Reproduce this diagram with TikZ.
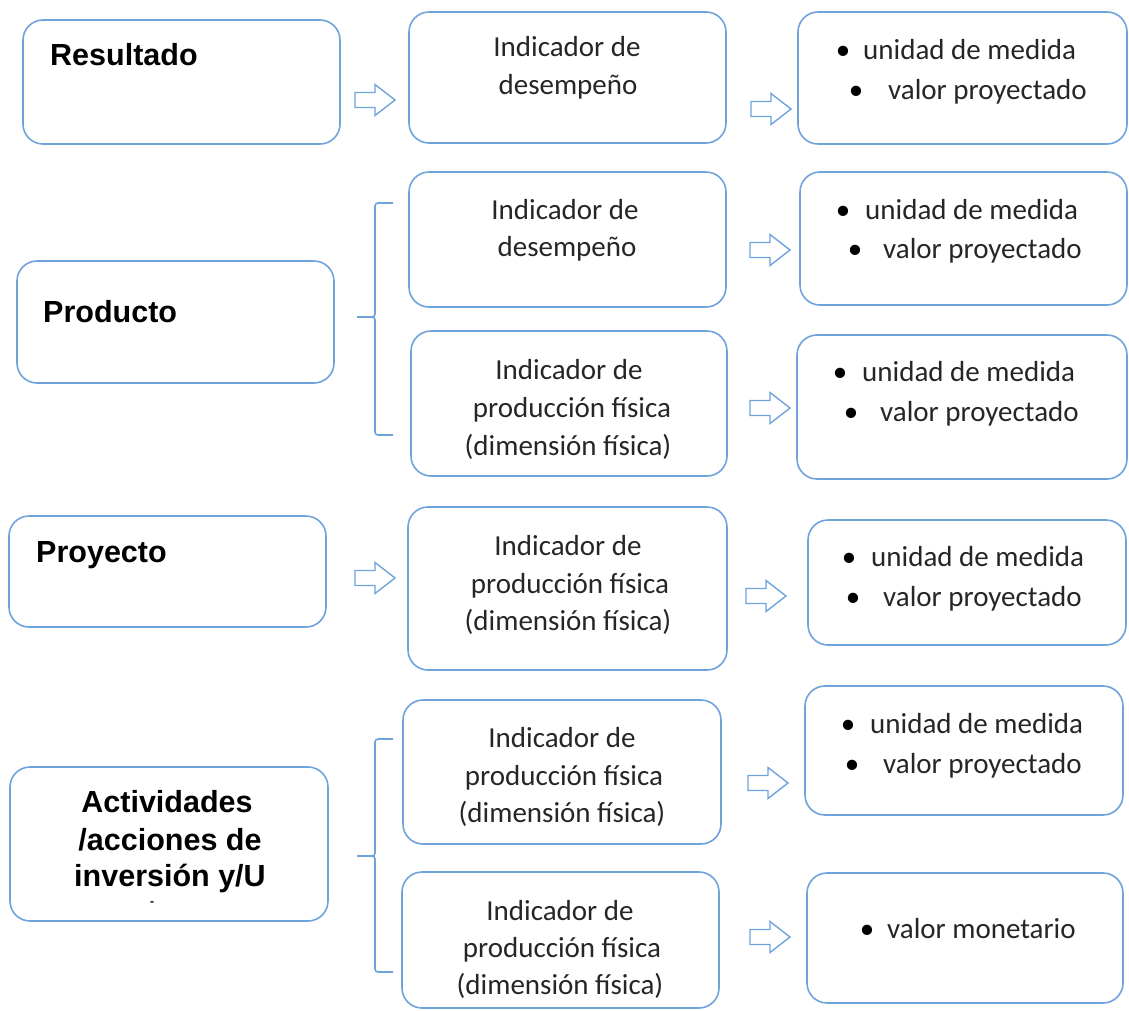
\documentclass[tikz,border=0pt]{standalone}
\usepackage{fontspec}
\setmainfont{Carlito}
\newfontfamily\arialfont{Liberation Sans}
\definecolor{bline}{RGB}{112,163,220}
\definecolor{tgrey}{RGB}{38,38,38}
\tikzset{
  box/.style={draw=bline, line width=1.6pt, rounded corners=20pt, inner sep=0pt, outer sep=0pt, fill=white},
  mtxt/.style={anchor=base, inner sep=0pt, text=tgrey, font=\fontsize{29}{36}\selectfont},
  btxt/.style={anchor=base west, inner sep=0pt, text=tgrey, font=\fontsize{29}{36}\selectfont},
  bul/.style={anchor=base, inner sep=0pt, text=black, font=\fontsize{29}{36}\selectfont},
  ltxt/.style={anchor=base west, inner sep=0pt, text=black, font=\arialfont\bfseries\fontsize{30.5}{37}\selectfont},
  ctxt/.style={anchor=base, inner sep=0pt, text=black, font=\arialfont\bfseries\fontsize{30.5}{37}\selectfont},
  bracestyle/.style={draw=bline, line width=1.6pt, rounded corners=3pt},
  barrow/.pic={\draw[draw=bline, line width=1.4pt, fill=white, line join=miter]
     (0,-7.5) -- (20,-7.5) -- (20,-15.5) -- (40,0) -- (20,15.5) -- (20,7.5) -- (0,7.5) -- cycle;}
}
\newcommand\bx[5]{\node[box, minimum width={(#4-#2)*1pt}, minimum height={(#5-#3)*1pt}] (#1) at ({(#2+#4)/2},{(#3+#5)/2}) {};}
\begin{document}
\begin{tikzpicture}[x=1pt,y=-1pt]
\useasboundingbox (0,0) rectangle (1129,1010);
% ---------- left column ----------
\bx{res}{23}{20}{340}{144}
\node[ltxt] (rest) at (50,65) {Resultado};
\bx{pro}{17}{261}{334}{383}
\node[ltxt] (prot) at (43,322) {Producto};
\bx{pry}{9}{516}{326}{627}
\node[ltxt] (pryt) at (36,562) {Proyecto};
\bx{act}{10}{767}{328}{921}
\node[ctxt] (acta) at (167,812) {Actividades};
\node[ctxt] (actb) at (170,850) {/acciones de};
\node[ctxt] (actc) at (170,886) {inversión y/U};
\node[ctxt, font=\arialfont\bfseries\fontsize{12}{14}\selectfont] (actd) at (152,905) {-};
% ---------- middle column ----------
\bx{m1}{409}{12}{726}{143}
\node[mtxt] (m1a) at (567,56) {Indicador de};
\node[mtxt] (m1b) at (568,94) {desempeño};
\bx{m2}{409}{172}{726}{307}
\node[mtxt] (m2a) at (565,219) {Indicador de};
\node[mtxt] (m2b) at (567,256) {desempeño};
\bx{m3}{411}{331}{727}{476}
\node[mtxt] (m3a) at (569,379) {Indicador de};
\node[mtxt] (m3b) at (572,417) {producción física};
\node[mtxt] (m3c) at (568,455) {(dimensión física)};
\bx{m4}{408}{507}{727}{670}
\node[mtxt] (m4a) at (568,555) {Indicador de};
\node[mtxt] (m4b) at (570,593) {producción física};
\node[mtxt] (m4c) at (568,630) {(dimensión física)};
\bx{m5}{403}{700}{721}{844}
\node[mtxt] (m5a) at (562,747) {Indicador de};
\node[mtxt] (m5b) at (564,785) {producción física};
\node[mtxt] (m5c) at (562,822) {(dimensión física)};
\bx{m6}{402}{872}{719}{1008}
\node[mtxt] (m6a) at (560,920) {Indicador de};
\node[mtxt] (m6b) at (562,957) {producción física};
\node[mtxt] (m6c) at (560,994) {(dimensión física)};
% ---------- right column ----------
\bx{r1}{798}{12}{1127}{144}
\node[bul] (r1p) at (843,59) {•};
\node[btxt] (r1a) at (863,59) {unidad de medida};
\node[bul] (r1q) at (856,99) {•};
\node[btxt] (r1b) at (888,99) {valor proyectado};
\bx{r2}{800}{172}{1127}{305}
\node[bul] (r2p) at (843,219) {•};
\node[btxt] (r2a) at (865,219) {unidad de medida};
\node[bul] (r2q) at (855,258) {•};
\node[btxt] (r2b) at (883,258) {valor proyectado};
\bx{r3}{797}{335}{1127}{479}
\node[bul] (r3p) at (840,381) {•};
\node[btxt] (r3a) at (862,381) {unidad de medida};
\node[bul] (r3q) at (851,421) {•};
\node[btxt] (r3b) at (880,421) {valor proyectado};
\bx{r4}{808}{520}{1126}{645}
\node[bul] (r4p) at (849,566) {•};
\node[btxt] (r4a) at (871,566) {unidad de medida};
\node[bul] (r4q) at (853,606) {•};
\node[btxt] (r4b) at (883,606) {valor proyectado};
\bx{r5}{805}{686}{1123}{815}
\node[bul] (r5p) at (848,733) {•};
\node[btxt] (r5a) at (870,733) {unidad de medida};
\node[bul] (r5q) at (852,773) {•};
\node[btxt] (r5b) at (883,773) {valor proyectado};
\bx{r6}{807}{873}{1123}{1003}
\node[bul] (r6p) at (867,938) {•};
\node[btxt] (r6a) at (887,938) {valor monetario};
% ---------- arrows ----------
\pic at (355,100) {barrow};
\pic at (751,109) {barrow};
\pic at (750,250) {barrow};
\pic at (750,408) {barrow};
\pic at (355,578) {barrow};
\pic at (746,596) {barrow};
\pic at (748,783) {barrow};
\pic at (750,937) {barrow};
% ---------- braces ----------
\draw[bracestyle] (393,203) -- (375,203) -- (375,317) -- (357,317);
\draw[bracestyle] (357,317) -- (375,317) -- (375,435) -- (393,435);
\draw[bracestyle] (393,739) -- (375,739) -- (375,856) -- (357,856);
\draw[bracestyle] (357,856) -- (375,856) -- (375,972) -- (393,972);
\end{tikzpicture}
\end{document}
